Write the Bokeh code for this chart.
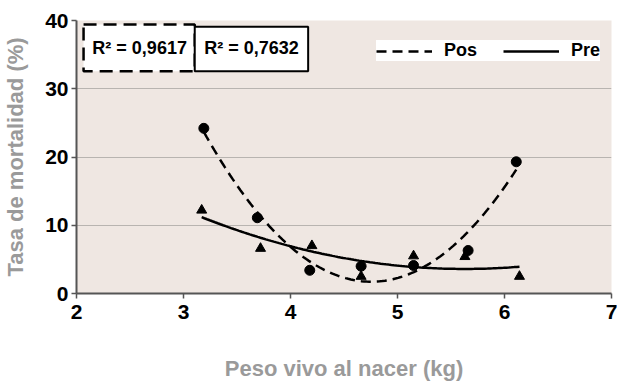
import numpy as np
from bokeh.plotting import figure
from bokeh.models import (Range1d, FixedTicker, BoxAnnotation, Label, Legend,
                          LegendItem)
from bokeh.embed import file_html
from bokeh.resources import INLINE

# ---- data ----
pos_x = [3.19, 3.69, 4.18, 4.66, 5.15, 5.66, 6.11]
pos_y = [24.2, 11.1, 3.4, 4.0, 4.1, 6.3, 19.3]
pre_x = [3.17, 3.72, 4.20, 4.66, 5.15, 5.63, 6.14]
pre_y = [12.2, 6.6, 7.0, 2.5, 5.5, 5.4, 2.5]
r2_pos = "R\u00b2 = 0,9617"
r2_pre = "R\u00b2 = 0,7632"
x_ticks = [2, 3, 4, 5, 6, 7]
y_ticks = [0, 10, 20, 30, 40]

FONT = "Liberation Sans"

p = figure(width=617, height=383, output_backend="svg", toolbar_location=None,
           x_range=Range1d(2, 7), y_range=Range1d(0, 40),
           min_border_left=72, min_border_right=6, min_border_top=20,
           min_border_bottom=87)
p.background_fill_color = "#efe7e2"
p.border_fill_color = "white"
p.outline_line_color = None

for ax in (p.xaxis[0], p.yaxis[0]):
    ax.major_label_text_font = FONT
    ax.major_label_text_font_style = "bold"
    ax.major_label_text_font_size = "21px"
    ax.major_label_text_color = "black"
    ax.axis_label_text_font = FONT
    ax.axis_label_text_font_style = "bold"
    ax.axis_label_text_font_size = "22px"
    ax.axis_label_text_color = "#9a9a9a"
    ax.minor_tick_line_color = None
    ax.major_tick_in = 0
    ax.major_tick_out = 5
    ax.axis_line_color = "#555555"
    ax.major_tick_line_color = "#555555"
    ax.axis_line_width = 2
    ax.major_tick_line_width = 1.5

p.xaxis.ticker = FixedTicker(ticks=x_ticks)
p.yaxis.ticker = FixedTicker(ticks=y_ticks)
p.xaxis.axis_label = "Peso vivo al nacer (kg)"
p.yaxis.axis_label = "Tasa de mortalidad (%)"
p.xaxis.major_label_standoff = 6
p.xaxis.axis_label_standoff = 34
p.yaxis.major_label_standoff = 3
p.yaxis.axis_label_standoff = 14

p.xgrid.grid_line_color = None
p.ygrid.ticker = FixedTicker(ticks=[10, 20, 30])
p.ygrid.grid_line_color = "#b8b4b0"
p.ygrid.grid_line_width = 1.2

cpos = np.polyfit(pos_x, pos_y, 2)
cpre = np.polyfit(pre_x, pre_y, 2)
xs_pos = np.linspace(min(pos_x), max(pos_x), 120)
xs_pre = np.linspace(min(pre_x), max(pre_x), 120)
l_pos = p.line(xs_pos, np.polyval(cpos, xs_pos), line_color="black",
               line_width=2.5, line_dash="10 6")
l_pre = p.line(xs_pre, np.polyval(cpre, xs_pre), line_color="black",
               line_width=2.5)

p.scatter(pos_x, pos_y, marker="circle", size=10, color="black")
p.scatter(pre_x, pre_y, marker="triangle", size=10, color="black")

b1 = BoxAnnotation(left=2.066, right=3.105, bottom=32.55, top=39.4,
                   fill_color="white", fill_alpha=1, line_color="black",
                   line_alpha=1, line_width=2.5, line_dash="13 7")
b2 = BoxAnnotation(left=3.105, right=4.165, bottom=32.55, top=39.1,
                   fill_color="white", fill_alpha=1, line_color="black",
                   line_alpha=1, line_width=2)
p.add_layout(b1)
p.add_layout(b2)
for txt, xc in ((r2_pos, 2.59), (r2_pre, 3.635)):
    p.add_layout(Label(x=xc, y=35.9, text=txt, text_align="center",
                       text_baseline="middle", text_font=FONT,
                       text_font_style="bold", text_font_size="18px",
                       text_color="black"))

legend = Legend(items=[LegendItem(label="Pos", renderers=[l_pos]),
                       LegendItem(label="Pre", renderers=[l_pre])],
                orientation="horizontal", location=(300, 232))
legend.label_text_font = FONT
legend.label_text_font_style = "bold"
legend.label_text_font_size = "18px"
legend.label_text_color = "black"
legend.label_height = 20
legend.glyph_width = 56
legend.glyph_height = 20
legend.label_standoff = 12
legend.spacing = 26
legend.padding = 22
legend.border_line_color = None
legend.background_fill_color = "white"
legend.background_fill_alpha = 1
p.add_layout(legend)

open("out.html", "w").write(file_html(p, INLINE))
